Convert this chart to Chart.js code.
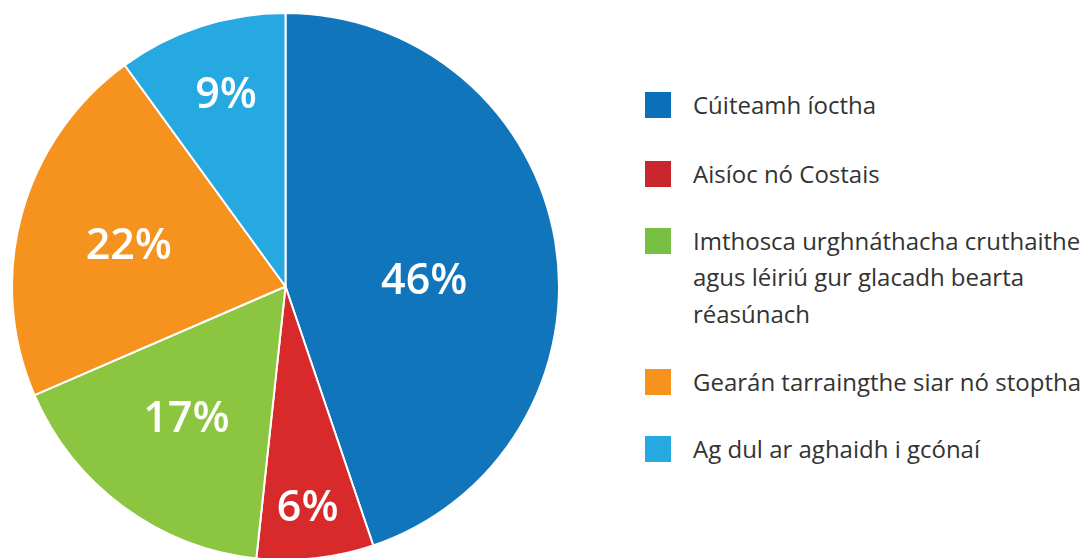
<!DOCTYPE html>
<html>
<head>
<meta charset="utf-8">
<script src="https://cdn.jsdelivr.net/npm/chart.js@4.4.1/dist/chart.umd.min.js"></script>
<style>
  html, body { margin: 0; padding: 0; background: #ffffff; overflow: hidden; }
  body { width: 1085px; height: 558px; position: relative; font-family: "Open Sans", "Noto Sans", sans-serif; }
  #wrap { position: absolute; left: 11px; top: 12px; width: 549px; height: 549px; }
  .legend-item { position: absolute; left: 645px; width: 440px; }
  .legend-item .sw { position: absolute; left: 0; width: 26px; height: 26px; }
  .legend-item .tx { position: absolute; left: 48px; width: 400px; font-size: 24px; line-height: 36.5px; color: #333333; white-space: normal; }
</style>
</head>
<body>
<div id="wrap"><canvas id="c"></canvas></div>
<div id="legend"></div>
<script>
// ---- data ----
const categories = [
  "Cúiteamh íoctha",
  "Aisíoc nó Costais",
  "Imthosca urghnáthacha cruthaithe agus léiriú gur glacadh bearta réasúnach",
  "Gearán tarraingthe siar nó stoptha",
  "Ag dul ar aghaidh i gcónaí"
];
// slice sizes as drawn in the picture (percent of circle)
const sliceValues = [44.8, 6.9, 16.8, 21.5, 10.0];
// percentage labels printed on the slices
const percentLabels = ["46%", "6%", "17%", "22%", "9%"];

// ---- styles ----
const sliceColors  = ["#1175BB", "#D8292B", "#8CC540", "#F6931F", "#26A9E0"];
const legendColors = ["#0B70BA", "#C9252C", "#77C043", "#F6921E", "#25A9E0"];

const sliceLabelPlugin = {
  id: 'sliceLabels',
  afterDatasetsDraw(chart, args, opts) {
    const ctx = chart.ctx;
    const meta = chart.getDatasetMeta(0);
    ctx.save();
    ctx.fillStyle = '#ffffff';
    ctx.font = '600 43px "Open Sans"';
    ctx.textAlign = 'center';
    ctx.textBaseline = 'alphabetic';
    meta.data.forEach((arc, i) => {
      const p = arc.getProps(['x', 'y', 'startAngle', 'endAngle', 'outerRadius'], true);
      const mid = (p.startAngle + p.endAngle) / 2 + opts.angleShift[i] * Math.PI / 180;
      const r = p.outerRadius * opts.radius[i];
      const x = p.x + Math.cos(mid) * r;
      const y = p.y + Math.sin(mid) * r;
      ctx.fillText(percentLabels[i], x, y + 43 * 0.357);
    });
    ctx.restore();
  }
};

new Chart(document.getElementById('c'), {
  type: 'pie',
  data: {
    labels: categories,
    datasets: [{
      data: sliceValues,
      backgroundColor: sliceColors,
      borderColor: '#ffffff',
      borderWidth: 2,
      hoverOffset: 0
    }]
  },
  options: {
    responsive: true,
    maintainAspectRatio: false,
    animation: false,
    layout: { padding: 0 },
    plugins: {
      legend: { display: false },
      tooltip: { enabled: false },
      sliceLabels: {
        radius: [0.508, 0.804, 0.597, 0.594, 0.743],
        angleShift: [6.1, 0.5, 1.0, 0.0, 1.0]
      }
    }
  },
  plugins: [sliceLabelPlugin]
});

// ---- HTML legend built from the arrays ----
const legendCenters = [105, 174, 241, 382, 449];
const legend = document.getElementById('legend');
categories.forEach((name, i) => {
  const item = document.createElement('div');
  item.className = 'legend-item';
  item.style.top = (legendCenters[i] - 18.25) + 'px';
  const sw = document.createElement('div');
  sw.className = 'sw';
  sw.style.background = legendColors[i];
  sw.style.top = (18.25 - 13) + 'px';
  const tx = document.createElement('div');
  tx.className = 'tx';
  tx.textContent = name;
  item.appendChild(sw);
  item.appendChild(tx);
  legend.appendChild(item);
});
</script>
</body>
</html>
